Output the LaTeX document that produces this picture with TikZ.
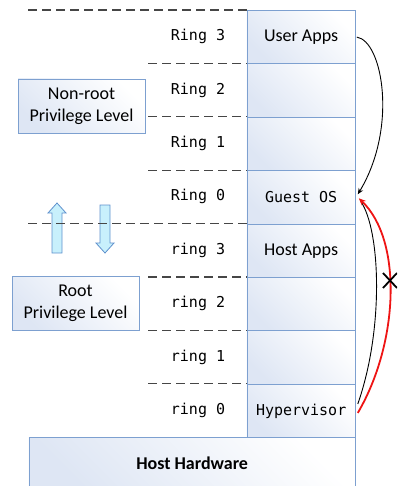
\documentclass[tikz,border=0pt]{standalone}
\usepackage{fontspec}
\setmainfont{Carlito}
\newfontfamily\monof{DejaVu Sans Mono}
\usetikzlibrary{calc,arrows.meta}
\definecolor{edgeblue}{RGB}{125,160,208}
\definecolor{cellfill}{RGB}{222,230,244}
\definecolor{arrowfill}{RGB}{200,240,252}
\definecolor{arrowedge}{RGB}{95,145,205}
\definecolor{dashgray}{RGB}{70,70,70}
\definecolor{myred}{RGB}{238,20,20}
\tikzset{
  cell/.style={draw=edgeblue, line width=0.8pt, top color=cellfill, bottom color=white, shading angle=135,
    minimum width=108.5pt, minimum height=53.4pt, inner sep=0pt, anchor=north west},
  sanstext/.style={font=\fontsize{18}{22}\selectfont},
  monotext/.style={font=\monof\fontsize{15}{18}\selectfont},
  pbox/.style={draw=edgeblue, line width=0.8pt, top color=cellfill, bottom color=white, shading angle=135,
    minimum width=127pt, minimum height=54pt, inner sep=0pt, align=center, font=\fontsize{18}{22}\selectfont},
  dashline/.style={draw=dashgray, line width=1.3pt, dash pattern=on 9pt off 5pt},
  blockarrow/.style={draw=arrowedge, fill=arrowfill, line width=0.8pt},
  blackarc/.style={draw=black, line width=0.9pt},
  redarc/.style={draw=myred, line width=1.8pt}
}
\begin{document}
\begin{tikzpicture}[x=1pt,y=-1pt]
\useasboundingbox (0,0) rectangle (397,486);
\clip (0,0) rectangle (397,486);
% right column cells
\node[cell, sanstext] (c0) at (246.5,10) {User Apps};
\node[cell] (c1) at (246.5,63.4) {};
\node[cell] (c2) at (246.5,116.8) {};
\node[cell, monotext] (c3) at (246.5,170.2) {Guest OS};
\node[cell, sanstext] (c4) at (246.5,223.6) {Host Apps};
\node[cell] (c5) at (246.5,277.0) {};
\node[cell] (c6) at (246.5,330.4) {};
\node[cell, monotext] (c7) at (246.5,383.8) {Hypervisor};
\node[cell, minimum width=326.5pt, minimum height=52pt, font=\bfseries\fontsize{18}{22}\selectfont] (hw) at (28.5,437.2) {Host Hardware};
% ring labels
\node[monotext] (l0) at (198,36.7) {Ring 3};
\node[monotext] (l1) at (198,90.1) {Ring 2};
\node[monotext] (l2) at (198,143.5) {Ring 1};
\node[monotext] (l3) at (198,196.9) {Ring 0};
\node[monotext] (l4) at (198,250.3) {ring 3};
\node[monotext] (l5) at (198,303.7) {ring 2};
\node[monotext] (l6) at (198,357.1) {ring 1};
\node[monotext] (l7) at (198,410.5) {ring 0};
% privilege boxes
\node[pbox] (nr) at (81.5,106) {Non-root\\Privilege Level};
\node[pbox] (rt) at (75.5,303.5) {Root\\Privilege Level};
% block arrows
\draw[blockarrow] (52,253) -- (52,213) -- (48,213) -- (57,203) -- (66,213) -- (62,213) -- (62,253) -- cycle;
\draw[blockarrow] (100,205) -- (110,205) -- (110,243) -- (114,243) -- (105,253) -- (96,243) -- (100,243) -- cycle;
% dashed lines
\coordinate (d0) at (28,10);
\coordinate (d1) at (148,63.4);
\coordinate (d2) at (148,116.8);
\coordinate (d3) at (148,170.2);
\coordinate (d4) at (28,223.6);
\coordinate (d5) at (148,277.0);
\coordinate (d6) at (148,330.4);
\coordinate (d7) at (148,383.8);
\draw[dashline] (d0) -- (c0.north west);
\draw[dashline] (d1) -- (c1.north west);
\draw[dashline] (d2) -- (c2.north west);
\draw[dashline] (d3) -- (c3.north west);
\draw[dashline] (d4) -- (c4.north west);
\draw[dashline] (d5) -- (c5.north west);
\draw[dashline] (d6) -- (c6.north west);
\draw[dashline] (d7) -- (c7.north west);
% curves
\draw[blackarc, -{Stealth[length=6pt,width=5pt]}] ($(c0.east)+(1,0)$) .. controls +(26,4) and +(40,-66) .. ($(c3.east)+(2,-3)$);
\draw[blackarc] ($(c3.east)+(5,4)$) .. controls +(20,30) and +(26,-74) .. ($(c7.east)+(2,-7)$);
\draw[redarc, -{Stealth[length=7pt,width=6pt]}] ($(c7.east)+(2,2)$) .. controls +(41,-70) and +(44,42) .. ($(c3.east)+(3,1)$);
% X mark
\draw[line width=1.8pt] (383,273) -- (397,288) (383,288) -- (397,273);
\end{tikzpicture}
\end{document}
